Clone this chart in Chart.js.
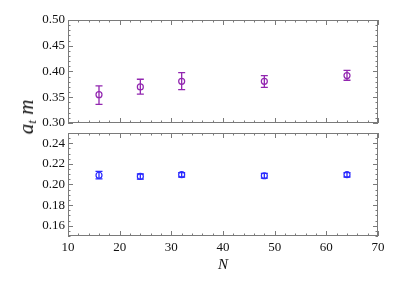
<!DOCTYPE html>
<html>
<head>
<meta charset="utf-8">
<script src="https://cdn.jsdelivr.net/npm/chart.js@4.4.1/dist/chart.umd.min.js"></script>
<style>
  body { margin: 0; background: #fff; }
  #wrap { position: relative; width: 415px; height: 282px; overflow: hidden; }
  canvas { position: absolute; left: 0; }
  #ytitle {
    position: absolute; left: 27px; top: 117px;
    transform: translate(-50%, -50%) rotate(-90deg);
    font-family: "Liberation Serif", serif; font-style: italic; font-size: 21px;
    white-space: nowrap; color: #111; line-height: 1;
  }
  #ytitle sub { font-size: 13px; vertical-align: -3px; }
</style>
</head>
<body>
<div id="wrap">
  <canvas id="topChart" width="415" height="140" style="top:0"></canvas>
  <canvas id="bottomChart" width="415" height="164" style="top:118px"></canvas>
  <div id="ytitle">a<sub>t</sub> m</div>
</div>
<script>
// Data
const nValues = [16, 24, 32, 48, 64];

const topValues = [0.355, 0.370, 0.381, 0.381, 0.392];
const topLow    = [0.336, 0.356, 0.365, 0.369, 0.383];
const topHigh   = [0.372, 0.385, 0.398, 0.392, 0.402];

const bottomValues = [0.209, 0.2078, 0.2095, 0.2085, 0.2095];
const bottomLow    = [0.2055, 0.2052, 0.2073, 0.2062, 0.2073];
const bottomHigh   = [0.2128, 0.2102, 0.2115, 0.2108, 0.2115];

const xTicks = [10, 20, 30, 40, 50, 60, 70];
const topYTicks = [0.30, 0.35, 0.40, 0.45, 0.50];
const bottomYTicks = [0.16, 0.18, 0.20, 0.22, 0.24];

const purple = '#9226b0';
const blue = '#2a2aff';
const serif = '"Liberation Serif", "DejaVu Serif", serif';

Chart.defaults.font.family = serif;
Chart.defaults.color = '#111';

// Error bars with caps
const errorBars = {
  id: 'errorBars',
  afterDatasetsDraw(chart, args, opts) {
    const ctx = chart.ctx;
    const xs = chart.scales.x, ys = chart.scales.y;
    ctx.save();
    ctx.strokeStyle = opts.color;
    ctx.lineWidth = 1.3;
    opts.low.forEach((lo, i) => {
      const x = xs.getPixelForValue(nValues[i]);
      const y1 = ys.getPixelForValue(lo);
      const y2 = ys.getPixelForValue(opts.high[i]);
      ctx.beginPath();
      ctx.moveTo(x, y1); ctx.lineTo(x, y2);
      ctx.moveTo(x - 3.5, y1); ctx.lineTo(x + 3.5, y1);
      ctx.moveTo(x - 3.5, y2); ctx.lineTo(x + 3.5, y2);
      ctx.stroke();
    });
    ctx.restore();
  }
};

// Frame with inward ticks on all four sides
const frame = {
  id: 'frame',
  afterDraw(chart, args, opts) {
    const ctx = chart.ctx;
    const a = chart.chartArea;
    const xs = chart.scales.x, ys = chart.scales.y;
    ctx.save();
    ctx.strokeStyle = '#7a7a7a';
    ctx.lineWidth = 1;
    ctx.strokeRect(a.left + 0.5, a.top + 0.5, a.right - a.left - 1, a.bottom - a.top - 1);
    ctx.beginPath();
    for (let v = 10; v <= 70.001; v += 2) {
      const x = Math.round(xs.getPixelForValue(v)) + 0.5;
      const len = Math.abs(v % 10) < 0.01 ? 5 : 2.5;
      ctx.moveTo(x, a.bottom); ctx.lineTo(x, a.bottom - len);
      ctx.moveTo(x, a.top); ctx.lineTo(x, a.top + len);
    }
    const n = Math.round((opts.max - opts.min) / opts.minor);
    for (let k = 0; k <= n; k++) {
      const v = opts.min + k * opts.minor;
      const y = Math.round(ys.getPixelForValue(v)) + 0.5;
      const r = (v - opts.majorBase) / opts.major;
      const len = Math.abs(r - Math.round(r)) < 0.01 ? 5 : 2.5;
      ctx.moveTo(a.left, y); ctx.lineTo(a.left + len, y);
      ctx.moveTo(a.right, y); ctx.lineTo(a.right - len, y);
    }
    ctx.stroke();
    ctx.restore();
  }
};

function makeData(values, color) {
  return {
    datasets: [{
      data: values.map((v, i) => ({ x: nValues[i], y: v })),
      showLine: false,
      pointStyle: 'circle',
      pointRadius: 3,
      pointBorderWidth: 1.2,
      pointBorderColor: color,
      pointBackgroundColor: 'rgba(0,0,0,0)'
    }]
  };
}

function yAxis(min, max, ticks) {
  return {
    type: 'linear', min: min, max: max,
    grid: { display: false, drawTicks: false }, border: { display: false },
    afterFit: (s) => { s.width = 68; },
    afterBuildTicks: (s) => { s.ticks = ticks.map(v => ({ value: v })); },
    ticks: { padding: 3, font: { size: 13 }, callback: v => v.toFixed(2) }
  };
}

new Chart(document.getElementById('topChart'), {
  type: 'scatter',
  data: makeData(topValues, purple),
  options: {
    responsive: false, animation: false, devicePixelRatio: 1,
    layout: { padding: { top: 20, right: 37, bottom: 17, left: 0 } },
    plugins: {
      legend: { display: false }, tooltip: { enabled: false },
      errorBars: { color: purple, low: topLow, high: topHigh },
      frame: { min: 0.30, max: 0.50, minor: 0.01, major: 0.05, majorBase: 0.30 }
    },
    scales: {
      x: { type: 'linear', min: 10, max: 70, display: false },
      y: yAxis(0.30, 0.50, topYTicks)
    }
  },
  plugins: [errorBars, frame]
});

new Chart(document.getElementById('bottomChart'), {
  type: 'scatter',
  data: makeData(bottomValues, blue),
  options: {
    responsive: false, animation: false, devicePixelRatio: 1,
    layout: { padding: { top: 15, right: 37, bottom: 0, left: 0 } },
    plugins: {
      legend: { display: false }, tooltip: { enabled: false },
      errorBars: { color: blue, low: bottomLow, high: bottomHigh },
      frame: { min: 0.15, max: 0.25, minor: 0.005, major: 0.02, majorBase: 0.16 }
    },
    scales: {
      x: {
        type: 'linear', min: 10, max: 70,
        grid: { display: false, drawTicks: false }, border: { display: false },
        afterFit: (s) => { s.height = 46; },
        afterBuildTicks: (s) => { s.ticks = xTicks.map(v => ({ value: v })); },
        ticks: { padding: 4, maxRotation: 0, font: { size: 13 } },
        title: { display: true, text: 'N', padding: { top: 0, bottom: 8 }, font: { size: 15, style: 'italic' } }
      },
      y: yAxis(0.15, 0.25, bottomYTicks)
    }
  },
  plugins: [errorBars, frame]
});
</script>
</body>
</html>
